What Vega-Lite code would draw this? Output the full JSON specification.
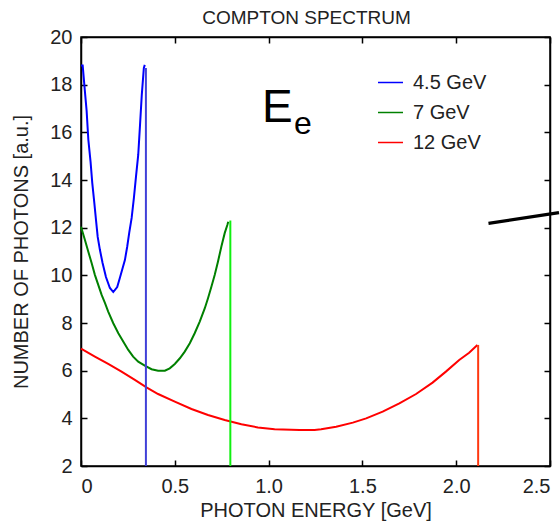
{
  "$schema": "https://vega.github.io/schema/vega-lite/v6.json",
  "width": 469,
  "height": 429,
  "autosize": "none",
  "padding": {"left": 81, "top": 37, "right": 10, "bottom": 60},
  "background": "white",
  "config": {
    "font": "Liberation Sans",
    "view": {"stroke": "black", "strokeWidth": 1.5},
    "axis": {
      "grid": false,
      "domainColor": "black",
      "domainWidth": 1.5,
      "tickColor": "black",
      "tickWidth": 1.5,
      "tickSize": -6,
      "labelFont": "Liberation Sans",
      "labelFontSize": 20,
      "labelColor": "#222",
      "titleFont": "Liberation Sans",
      "titleFontSize": 20,
      "titleFontWeight": "normal",
      "titleColor": "#222"
    }
  },
  "title": {
    "text": "COMPTON SPECTRUM",
    "font": "Liberation Sans",
    "fontSize": 19,
    "fontWeight": "normal",
    "color": "#222",
    "anchor": "middle",
    "frame": "group",
    "baseline": "bottom",
    "offset": 6,
    "dx": -9,
    "dy": 26
  },
  "datasets": {
    "curves": [
      {"E": 0.0, "N": 18.8, "beam": "4.5 GeV"},
      {"E": 0.009, "N": 18.8, "beam": "4.5 GeV"},
      {"E": 0.021, "N": 17.7, "beam": "4.5 GeV"},
      {"E": 0.030, "N": 16.9, "beam": "4.5 GeV"},
      {"E": 0.039, "N": 15.7, "beam": "4.5 GeV"},
      {"E": 0.051, "N": 14.76, "beam": "4.5 GeV"},
      {"E": 0.060, "N": 13.88, "beam": "4.5 GeV"},
      {"E": 0.071, "N": 13.04, "beam": "4.5 GeV"},
      {"E": 0.080, "N": 12.32, "beam": "4.5 GeV"},
      {"E": 0.089, "N": 11.61, "beam": "4.5 GeV"},
      {"E": 0.101, "N": 11.06, "beam": "4.5 GeV"},
      {"E": 0.115, "N": 10.52, "beam": "4.5 GeV"},
      {"E": 0.133, "N": 9.93, "beam": "4.5 GeV"},
      {"E": 0.154, "N": 9.47, "beam": "4.5 GeV"},
      {"E": 0.172, "N": 9.30, "beam": "4.5 GeV"},
      {"E": 0.193, "N": 9.51, "beam": "4.5 GeV"},
      {"E": 0.207, "N": 9.89, "beam": "4.5 GeV"},
      {"E": 0.222, "N": 10.31, "beam": "4.5 GeV"},
      {"E": 0.234, "N": 10.64, "beam": "4.5 GeV"},
      {"E": 0.246, "N": 11.19, "beam": "4.5 GeV"},
      {"E": 0.257, "N": 11.78, "beam": "4.5 GeV"},
      {"E": 0.270, "N": 12.41, "beam": "4.5 GeV"},
      {"E": 0.282, "N": 13.25, "beam": "4.5 GeV"},
      {"E": 0.293, "N": 14.13, "beam": "4.5 GeV"},
      {"E": 0.305, "N": 15.05, "beam": "4.5 GeV"},
      {"E": 0.314, "N": 16.23, "beam": "4.5 GeV"},
      {"E": 0.324, "N": 17.57, "beam": "4.5 GeV"},
      {"E": 0.335, "N": 18.7, "beam": "4.5 GeV"},
      {"E": 0.340, "N": 18.83, "beam": "4.5 GeV"},
      {"E": 0.0, "N": 12.04, "beam": "7 GeV"},
      {"E": 0.021, "N": 11.48, "beam": "7 GeV"},
      {"E": 0.039, "N": 10.99, "beam": "7 GeV"},
      {"E": 0.057, "N": 10.51, "beam": "7 GeV"},
      {"E": 0.074, "N": 10.02, "beam": "7 GeV"},
      {"E": 0.092, "N": 9.60, "beam": "7 GeV"},
      {"E": 0.110, "N": 9.18, "beam": "7 GeV"},
      {"E": 0.128, "N": 8.83, "beam": "7 GeV"},
      {"E": 0.145, "N": 8.48, "beam": "7 GeV"},
      {"E": 0.172, "N": 7.99, "beam": "7 GeV"},
      {"E": 0.199, "N": 7.57, "beam": "7 GeV"},
      {"E": 0.225, "N": 7.22, "beam": "7 GeV"},
      {"E": 0.252, "N": 6.87, "beam": "7 GeV"},
      {"E": 0.278, "N": 6.59, "beam": "7 GeV"},
      {"E": 0.305, "N": 6.38, "beam": "7 GeV"},
      {"E": 0.340, "N": 6.21, "beam": "7 GeV"},
      {"E": 0.376, "N": 6.06, "beam": "7 GeV"},
      {"E": 0.411, "N": 6.00, "beam": "7 GeV"},
      {"E": 0.447, "N": 6.00, "beam": "7 GeV"},
      {"E": 0.473, "N": 6.10, "beam": "7 GeV"},
      {"E": 0.500, "N": 6.28, "beam": "7 GeV"},
      {"E": 0.527, "N": 6.52, "beam": "7 GeV"},
      {"E": 0.553, "N": 6.80, "beam": "7 GeV"},
      {"E": 0.580, "N": 7.15, "beam": "7 GeV"},
      {"E": 0.606, "N": 7.57, "beam": "7 GeV"},
      {"E": 0.633, "N": 8.06, "beam": "7 GeV"},
      {"E": 0.660, "N": 8.62, "beam": "7 GeV"},
      {"E": 0.677, "N": 9.04, "beam": "7 GeV"},
      {"E": 0.695, "N": 9.52, "beam": "7 GeV"},
      {"E": 0.713, "N": 10.02, "beam": "7 GeV"},
      {"E": 0.730, "N": 10.57, "beam": "7 GeV"},
      {"E": 0.748, "N": 11.20, "beam": "7 GeV"},
      {"E": 0.766, "N": 11.77, "beam": "7 GeV"},
      {"E": 0.780, "N": 12.11, "beam": "7 GeV"},
      {"E": 0.785, "N": 12.25, "beam": "7 GeV"},
      {"E": 0.0, "N": 6.92, "beam": "12 GeV"},
      {"E": 0.074, "N": 6.59, "beam": "12 GeV"},
      {"E": 0.145, "N": 6.28, "beam": "12 GeV"},
      {"E": 0.216, "N": 5.96, "beam": "12 GeV"},
      {"E": 0.287, "N": 5.61, "beam": "12 GeV"},
      {"E": 0.349, "N": 5.30, "beam": "12 GeV"},
      {"E": 0.411, "N": 5.02, "beam": "12 GeV"},
      {"E": 0.500, "N": 4.70, "beam": "12 GeV"},
      {"E": 0.589, "N": 4.39, "beam": "12 GeV"},
      {"E": 0.677, "N": 4.14, "beam": "12 GeV"},
      {"E": 0.766, "N": 3.93, "beam": "12 GeV"},
      {"E": 0.855, "N": 3.75, "beam": "12 GeV"},
      {"E": 0.943, "N": 3.62, "beam": "12 GeV"},
      {"E": 1.032, "N": 3.54, "beam": "12 GeV"},
      {"E": 1.165, "N": 3.51, "beam": "12 GeV"},
      {"E": 1.245, "N": 3.51, "beam": "12 GeV"},
      {"E": 1.280, "N": 3.54, "beam": "12 GeV"},
      {"E": 1.360, "N": 3.65, "beam": "12 GeV"},
      {"E": 1.449, "N": 3.82, "beam": "12 GeV"},
      {"E": 1.520, "N": 4.00, "beam": "12 GeV"},
      {"E": 1.608, "N": 4.28, "beam": "12 GeV"},
      {"E": 1.697, "N": 4.63, "beam": "12 GeV"},
      {"E": 1.786, "N": 5.02, "beam": "12 GeV"},
      {"E": 1.874, "N": 5.50, "beam": "12 GeV"},
      {"E": 1.945, "N": 5.96, "beam": "12 GeV"},
      {"E": 2.016, "N": 6.45, "beam": "12 GeV"},
      {"E": 2.069, "N": 6.75, "beam": "12 GeV"},
      {"E": 2.113, "N": 7.08, "beam": "12 GeV"}
    ],
    "edges": [
      {"edge": "4.5 GeV edge", "E": 0.346, "top": 18.7, "bottom": 2},
      {"edge": "7 GeV edge", "E": 0.796, "top": 12.3, "bottom": 2},
      {"edge": "12 GeV edge", "E": 2.117, "top": 7.08, "bottom": 2}
    ],
    "pointer": [
      {"E": 2.172, "N": 12.18, "E2": 2.548, "N2": 12.63}
    ],
    "labels": [
      {"E": 0.965, "N": 16.45, "txt": "E"}
    ],
    "sublabels": [
      {"E": 1.135, "N": 15.93, "txt": "e"}
    ]
  },
  "layer": [
    {
      "data": {"name": "curves"},
      "mark": {"type": "line", "strokeWidth": 2, "clip": false},
      "encoding": {
        "x": {
          "field": "E", "type": "quantitative",
          "scale": {"domain": [0, 2.5], "nice": false, "zero": false},
          "axis": {
            "orient": "bottom",
            "title": "PHOTON ENERGY [GeV]",
            "values": [0, 0.5, 1, 1.5, 2, 2.5],
            "labelExpr": "datum.value == 0 ? '0' : format(datum.value, '.1f')",
            "labelPadding": 16,
            "titlePadding": 4
          }
        },
        "y": {
          "field": "N", "type": "quantitative",
          "scale": {"domain": [2, 20], "nice": false, "zero": false},
          "axis": {
            "orient": "left",
            "title": "NUMBER OF PHOTONS [a.u.]",
            "values": [2, 4, 6, 8, 10, 12, 14, 16, 18, 20],
            "labelPadding": 15,
            "titlePadding": 18
          }
        },
        "color": {
          "field": "beam", "type": "nominal",
          "scale": {"domain": ["4.5 GeV", "7 GeV", "12 GeV"], "range": ["#0000ff", "#008000", "#ff0000"]},
          "legend": {
            "orient": "none",
            "legendX": 296,
            "legendY": 32,
            "title": null,
            "padding": 0,
            "symbolType": "stroke",
            "symbolSize": 625,
            "symbolStrokeWidth": 1.5,
            "labelFont": "Liberation Sans",
            "labelFontSize": 20,
            "labelColor": "#222",
            "labelOffset": 9,
            "rowPadding": 6
          }
        }
      }
    },
    {
      "data": {"name": "edges"},
      "mark": {"type": "rule", "strokeWidth": 2},
      "encoding": {
        "x": {"field": "E", "type": "quantitative", "axis": null},
        "y": {"field": "top", "type": "quantitative", "axis": null},
        "y2": {"field": "bottom"},
        "color": {
          "field": "edge", "type": "nominal",
          "scale": {"domain": ["4.5 GeV edge", "7 GeV edge", "12 GeV edge"], "range": ["#4040d8", "#10f010", "#ff3810"]},
          "legend": null
        }
      }
    },
    {
      "data": {"name": "pointer"},
      "mark": {"type": "rule", "strokeWidth": 3.2, "color": "black", "clip": false},
      "encoding": {
        "x": {"field": "E", "type": "quantitative", "axis": null},
        "y": {"field": "N", "type": "quantitative", "axis": null},
        "x2": {"field": "E2"},
        "y2": {"field": "N2"}
      }
    },
    {
      "data": {"name": "labels"},
      "mark": {"type": "text", "font": "Liberation Sans", "fontSize": 46, "align": "left", "baseline": "alphabetic", "color": "black"},
      "encoding": {
        "x": {"field": "E", "type": "quantitative", "axis": null},
        "y": {"field": "N", "type": "quantitative", "axis": null},
        "text": {"field": "txt"}
      }
    },
    {
      "data": {"name": "sublabels"},
      "mark": {"type": "text", "font": "Liberation Sans", "fontSize": 32, "align": "left", "baseline": "alphabetic", "color": "black"},
      "encoding": {
        "x": {"field": "E", "type": "quantitative", "axis": null},
        "y": {"field": "N", "type": "quantitative", "axis": null},
        "text": {"field": "txt"}
      }
    },
    {
      "data": {"name": "edges"},
      "mark": {"type": "point", "opacity": 0},
      "encoding": {
        "x": {
          "field": "E", "type": "quantitative",
          "axis": {"orient": "top", "labels": false, "title": null, "values": [0, 0.5, 1, 1.5, 2, 2.5]}
        },
        "y": {
          "field": "top", "type": "quantitative",
          "axis": {"orient": "right", "labels": false, "title": null, "values": [2, 4, 6, 8, 10, 12, 14, 16, 18, 20]}
        }
      }
    }
  ],
  "resolve": {
    "axis": {"x": "independent", "y": "independent"},
    "scale": {"color": "independent"}
  }
}
